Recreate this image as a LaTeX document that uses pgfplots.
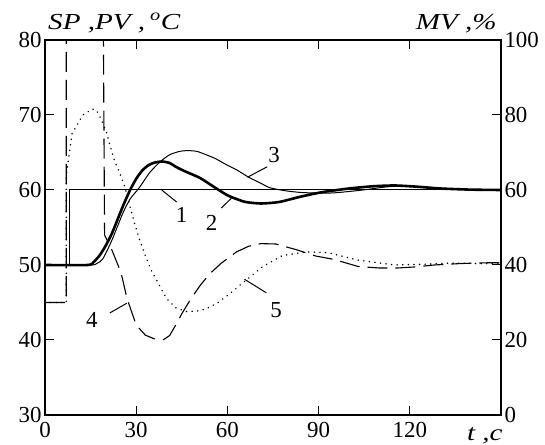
\documentclass[border=0pt]{standalone}
\usepackage{fontspec}
\setmainfont{Liberation Serif}
\usepackage{graphicx}
\usepackage{pgfplots}
\pgfplotsset{compat=1.18}

\pgfplotsset{
  base/.style={
    scale only axis, width=456bp, height=375bp,
    xmin=0, xmax=150,
    tick align=inside, major tick length=9bp,
    axis line style={line width=1.2bp},
    every tick/.style={black, line width=1bp},
    /pgf/number format/assume math mode=true,
    clip mode=individual,
  },
}
\tikzset{
  thinline/.style={black, line width=1bp},
  lbl/.style={inner sep=0pt},
}
\newcommand{\wide}[1]{\scalebox{1.27}[1]{#1}}

\begin{document}
\begin{tikzpicture}[font=\fontsize{23}{27}\selectfont]
\path[use as bounding box] (-45bp,-30bp) rectangle (500bp,415bp);

% temperatures (left scale)
\begin{axis}[base,
  ymin=30, ymax=80, ytick={30,40,...,80},
  xtick={0,30,...,120},
  ytick pos=left, xtick pos=both,
  xticklabel style={yshift=-4bp},
]
% 1: set point
\addplot[thinline] coordinates {(0,50) (8,50) (8,60) (150,60)};
% 2: thick PV
\addplot[black, line width=2.6bp, smooth, tension=0.4] coordinates {
  (0,50) (14,50) (16,50.4) (18,51.3) (20,52.6) (22,54.2) (24,56.2) (26,58.2)
  (28,60) (30,61.5) (32,62.6) (34,63.3) (36,63.65) (38.5,63.8) (41,63.6)
  (43,63.1) (46,62.5) (51,61.6) (56,60.3) (60,59.3) (63,58.8) (66,58.4)
  (71,58.2) (77,58.4) (84,59.1) (91,59.7) (100,60.2) (108,60.5) (115,60.6)
  (122,60.45) (130,60.2) (140,60.05) (150,60)};
% 3: thin PV
\addplot[thinline, smooth, tension=0.4] coordinates {
  (0,50) (15,50) (17,50.2) (19,50.8) (22,53.3) (25.6,56.9) (28,58.8)
  (31,60.3) (34.4,62.3) (37.7,63.7) (41,64.7) (44.3,65.15) (47,65.25)
  (50,65.15) (53,64.7) (56,64.2) (60,63.3) (63,62.7) (67,61.7) (71,60.9)
  (74,60.3) (79,59.9) (85,59.65) (94,59.6) (100,59.8) (105.5,60.05)
  (112,60.4) (118,60.55) (125,60.4) (132,60.2) (140,60.05) (150,60)};

\draw[thinline] (axis cs:38.4,60) -- (axis cs:43.3,58.4);
\node[lbl] at (axis cs:44.9,56.7) {1};
\draw[thinline] (axis cs:58,57.6) -- (axis cs:61.3,58.9);
\node[lbl] at (axis cs:54.8,55.6) {2};
\draw[thinline] (axis cs:66.6,61.7) -- (axis cs:73.1,63.1);
\node[lbl] at (axis cs:75.4,64.7) {3};
\draw[thinline] (axis cs:21.3,43.6) -- (axis cs:26.9,44.9);
\node[lbl] at (axis cs:15.4,42.7) {4};
\draw[thinline] (axis cs:65.6,48.1) -- (axis cs:72.8,46.3);
\node[lbl] at (axis cs:76,44) {5};

\node[lbl, anchor=base west] at (axis description cs:0.0066,1.0267)
  {\wide{\textit{SP ,PV ,\,\textsuperscript{o}C}}};
\node[lbl, anchor=base east] at (axis description cs:0.991,1.0267)
  {\wide{\textit{MV ,\%}}};
\node[lbl, anchor=base east] at (axis description cs:1.004,-0.068)
  {\wide{\textit{t ,c}}};
\end{axis}

% manipulated variable (right scale)
\begin{axis}[base,
  ymin=0, ymax=100, ytick={0,20,...,100},
  axis y line*=right, axis x line=none,
  ytick align=inside,
]
% 4: MV, long dashes
\addplot[black, line width=1.1bp, dash pattern=on 20bp off 8bp] coordinates {
  (0,30) (7,30) (7,130) (19,130) (19.6,48) (22,44) (25,38) (27,31)
  (30,24) (33,21.3) (36,20.3) (39,20.1) (41,21.2) (43,24) (45,27) (48,31)
  (51,34.5) (54,37.5) (58,40.5) (63,43.5) (67,45) (71,45.7) (76,45.6)
  (83,44) (89,42.4) (95,41.5) (103,39.6) (110,39.2) (116,39.2) (122,39.5)
  (128,40) (137,40.4) (146,40.6) (150,40.6)};
% 5: MV, dotted
\addplot[black, line width=1.6bp, line cap=round, dash pattern=on 0.1bp off 5.5bp] coordinates {
  (0,30) (7,30) (7,64) (8.9,75) (10.5,77.3) (12.5,80) (15.5,81.6) (17,81.2)
  (18.7,78.5) (20.3,75.2) (21.5,71.5) (23,67.5) (24.6,64.5) (26.2,61)
  (28,55.5) (29.5,51) (31,47) (33,42.5) (35,38.5) (37,35.5) (40,31)
  (43,28.6) (46.5,27.6) (50,27.7) (53,28.3) (57,30) (61,32.5) (65,35.2)
  (71.5,39.5) (78,42.5) (86,43.5) (93,43.3) (103,41.3) (115,40) (125,40.2)
  (133,40.5) (142,40.4) (150,40.3)};
\end{axis}
\end{tikzpicture}
\end{document}
